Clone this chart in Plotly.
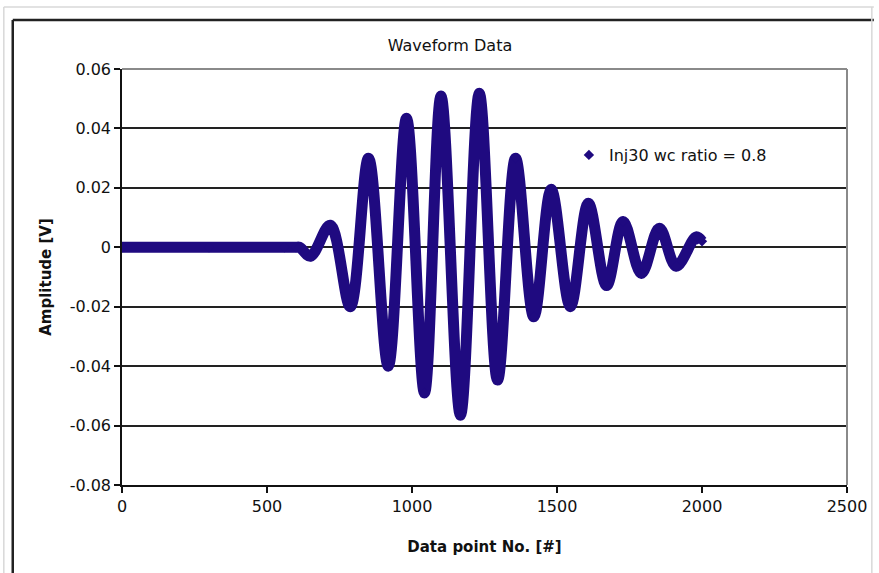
import plotly.graph_objects as go

# ---- data (extrema of the waveform) ----
point_no = [0, 300, 560, 600, 612, 650, 718, 787, 850, 918, 981, 1043, 1100,
            1167, 1232, 1295, 1357, 1420, 1480, 1546, 1608, 1671, 1728, 1791,
            1853, 1911, 1980, 2000]
amplitude = [0, 0, 0, 0, 0, -0.003, 0.0074, -0.020, 0.030, -0.040, 0.0434,
             -0.049, 0.0509, -0.0565, 0.0518, -0.0447, 0.030, -0.0234, 0.0195,
             -0.020, 0.0148, -0.0129, 0.0087, -0.0088, 0.0064, -0.0064, 0.0035,
             0.002]
series_name = "Inj30 wc ratio = 0.8"

x_tickvals = [0, 500, 1000, 1500, 2000, 2500]
y_tickvals = [0.06, 0.04, 0.02, 0, -0.02, -0.04, -0.06, -0.08]
y_ticktext = ["0.06", "0.04", "0.02", "0", "-0.02", "-0.04", "-0.06", "-0.08"]

W, H = 879, 573
L, R, T, B = 122, 852, 69, 485
COLOR = "#1F0A80"
FONT = "DejaVu Sans"


def px_x(p):
    return (p - L) / (R - L)


def px_y(p):
    return (B - p) / (B - T)


fig = go.Figure()
fig.add_trace(go.Scatter(
    x=point_no, y=amplitude, mode="lines",
    line=dict(color=COLOR, width=11, shape="spline", smoothing=1.0),
    showlegend=False, hoverinfo="skip"))
fig.add_trace(go.Scatter(
    x=point_no, y=amplitude, mode="markers", name=series_name,
    marker=dict(symbol="diamond", size=8, color=COLOR)))

fig.update_layout(
    width=W, height=H,
    margin=dict(l=L, r=W - R, t=T, b=H - B),
    paper_bgcolor="white", plot_bgcolor="white",
    font=dict(family=FONT, size=16, color="#111"),
    title=dict(text="Waveform Data", font=dict(family=FONT, size=16, color="#111"),
               x=450 / W, xref="container", xanchor="center",
               y=1 - 45 / H, yref="container", yanchor="middle"),
    showlegend=True,
    legend=dict(x=px_x(572), y=px_y(155), xanchor="left", yanchor="middle",
                itemwidth=30,
                bgcolor="rgba(0,0,0,0)", font=dict(family=FONT, size=16, color="#111")),
    xaxis=dict(range=[0, 2500], tickvals=x_tickvals, ticks="outside", ticklen=6,
               tickcolor="#111", tickwidth=1.5, showline=True, linecolor="#111",
               linewidth=1.5, showgrid=False, zeroline=False,
               title=dict(text="<b>Data point No. [#]</b>",
                          font=dict(family=FONT, size=15, color="#111"), standoff=27)),
    yaxis=dict(range=[-0.08, 0.06], tickvals=y_tickvals, ticktext=y_ticktext,
               ticks="outside", ticklen=6, tickcolor="#111", tickwidth=1.5,
               showline=True, linecolor="#111", linewidth=1.5,
               showgrid=True, gridcolor="#222", gridwidth=1.5, zeroline=False,
               title=dict(text="<b>Amplitude [V]</b>",
                          font=dict(family=FONT, size=15, color="#111"), standoff=14)),
    shapes=[
        # plot-area top/right border (gray)
        dict(type="line", xref="paper", yref="paper", x0=0, x1=1, y0=1, y1=1,
             line=dict(color="#8a8a8a", width=2), layer="above"),
        dict(type="line", xref="paper", yref="paper", x0=1, x1=1, y0=0, y1=1,
             line=dict(color="#8a8a8a", width=2), layer="above"),
        # chart-area border (dark)
        dict(type="line", xref="paper", yref="paper", x0=px_x(12), x1=px_x(879),
             y0=px_y(20), y1=px_y(20), line=dict(color="#222", width=2.5)),
        dict(type="line", xref="paper", yref="paper", x0=px_x(12), x1=px_x(12),
             y0=px_y(20), y1=px_y(573), line=dict(color="#222", width=2.5)),
        # outer light frame
        dict(type="line", xref="paper", yref="paper", x0=px_x(3), x1=px_x(879),
             y0=px_y(7), y1=px_y(7), line=dict(color="#d8d8d8", width=1.5)),
        dict(type="line", xref="paper", yref="paper", x0=px_x(3), x1=px_x(3),
             y0=px_y(7), y1=px_y(573), line=dict(color="#d8d8d8", width=1.5)),
        dict(type="line", xref="paper", yref="paper", x0=px_x(877), x1=px_x(877),
             y0=px_y(7), y1=px_y(573), line=dict(color="#d8d8d8", width=1.5)),
    ],
)

fig.write_html("out.html")
